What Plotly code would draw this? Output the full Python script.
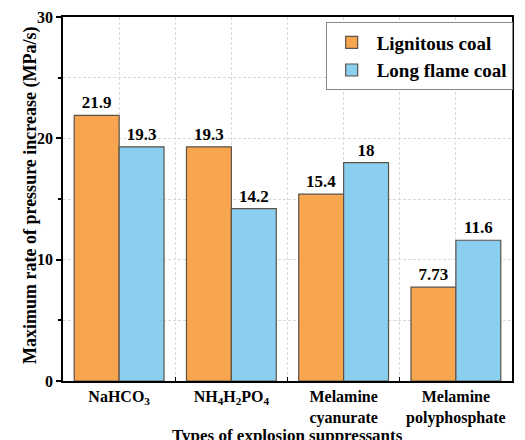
import plotly.graph_objects as go

categories = ["NaHCO<sub>3</sub>", "NH<sub>4</sub>H<sub>2</sub>PO<sub>4</sub>",
              "Melamine<br>cyanurate", "Melamine<br>polyphosphate"]
lignitous = [21.9, 19.3, 15.4, 7.73]
long_flame = [19.3, 14.2, 18, 11.6]
series_names = ["Lignitous coal", "Long flame coal"]
y_ticks = [0, 10, 20, 30]
x_title = "Types of explosion suppressants"
y_title = "Maximum rate of pressure increase (MPa/s)"

FONT = "Times New Roman"
x = list(range(len(categories)))

fig = go.Figure()
for name, vals, color in [(series_names[0], lignitous, "#F8A54F"),
                          (series_names[1], long_flame, "#8BCFF0")]:
    fig.add_trace(go.Bar(
        x=x, y=vals, name=name,
        marker=dict(color=color, line=dict(color="#5b5248", width=1.2)),
        text=[f"{v:g}" for v in vals], textposition="outside",
        textfont=dict(family=FONT, size=17, color="black", weight="bold"),
        cliponaxis=False,
    ))

GRID = "#d9d9d9"
fig.update_layout(
    width=525, height=440,
    margin=dict(l=55, r=21, t=9, b=67, autoexpand=False),
    paper_bgcolor="white", plot_bgcolor="white",
    barmode="group", bargap=0.2, bargroupgap=0,
    font=dict(family=FONT, size=16, color="black", weight="bold"),
    legend=dict(x=0.585, y=0.985, xanchor="left", yanchor="top",
                bordercolor="#888", borderwidth=1, bgcolor="white",
                font=dict(family=FONT, size=19, weight="bold"),
                tracegroupgap=0, itemwidth=40),
    xaxis=dict(
        range=[-0.5, 3.5], tickvals=x, ticktext=categories,
        tickfont=dict(family=FONT, size=16, weight="bold"),
        showline=True, linecolor="black", linewidth=1.5, mirror=True,
        ticks="", showgrid=True, gridcolor=GRID, griddash="3px,2px", gridwidth=1,
        minor=dict(tickvals=[0.5, 1.5, 2.5], showgrid=True, gridcolor=GRID,
                   griddash="3px,2px", ticks="inside", ticklen=4, tickcolor="black"),
        zeroline=False, automargin=False,
    ),
    yaxis=dict(
        range=[0, 30], tickvals=y_ticks,
        tickfont=dict(family=FONT, size=16, weight="bold"),
        showline=True, linecolor="black", linewidth=1.5, mirror=True,
        ticks="outside", ticklen=5, tickwidth=1.5, tickcolor="black",
        showgrid=False, zeroline=False, automargin=False,
        minor=dict(tickvals=[5, 10, 15, 20, 25], showgrid=True, gridcolor=GRID,
                   griddash="3px,2px", ticks="outside", ticklen=3, tickcolor="black"),
    ),
    annotations=[
        dict(text=x_title, xref="paper", yref="paper", x=0.5, y=0,
             xanchor="center", yanchor="middle", yshift=-54, showarrow=False,
             font=dict(family=FONT, size=17, weight="bold", color="black")),
        dict(text=y_title, xref="paper", yref="paper", x=0, y=0.5,
             xanchor="center", yanchor="middle", xshift=-33, yshift=3,
             textangle=-90, showarrow=False,
             font=dict(family=FONT, size=18, weight="bold", color="black")),
    ],
)

fig.write_html("out.html")
